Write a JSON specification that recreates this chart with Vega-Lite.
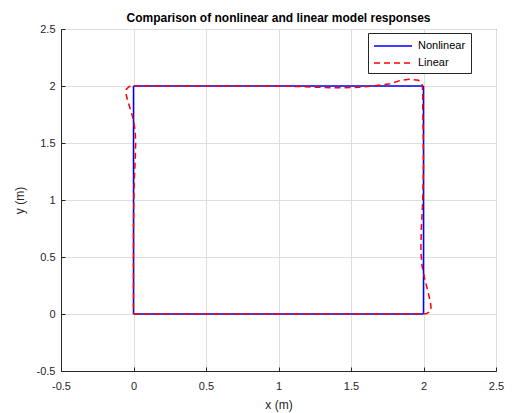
{
  "$schema": "https://vega.github.io/schema/vega-lite/v6.json",
  "width": 435,
  "height": 342,
  "autosize": {"type": "none"},
  "padding": {"left": 61, "top": 29, "right": 16, "bottom": 42},
  "background": "white",
  "title": {"text": "Comparison of nonlinear and linear model responses", "font": "Liberation Sans", "fontSize": 12, "fontWeight": "bold", "color": "#000000", "offset": -2, "anchor": "middle"},
  "config": {
    "view": {"stroke": "#262626", "strokeWidth": 1},
    "font": "Liberation Sans",
    "axis": {"labelFont": "Liberation Sans", "labelFontSize": 11, "labelColor": "#262626", "titleFont": "Liberation Sans", "titleFontSize": 12, "titleFontWeight": "normal", "titleColor": "#262626", "gridColor": "#dedede", "gridWidth": 1, "domainColor": "#262626", "tickColor": "#262626", "tickSize": -4, "labelFlush": false}
  },
  "data": {"values": [
    {"s": "Nonlinear", "i": 0, "x": 0, "y": 0},
    {"s": "Nonlinear", "i": 1, "x": 2, "y": 0},
    {"s": "Nonlinear", "i": 2, "x": 2, "y": 2},
    {"s": "Nonlinear", "i": 3, "x": 0, "y": 2},
    {"s": "Nonlinear", "i": 4, "x": 0, "y": 0},
    {"s": "Linear", "i": 0, "x": 0, "y": 0},
    {"s": "Linear", "i": 1, "x": 1, "y": 0},
    {"s": "Linear", "i": 2, "x": 1.98, "y": 0},
    {"s": "Linear", "i": 3, "x": 2.02, "y": 0.003},
    {"s": "Linear", "i": 4, "x": 2.045, "y": 0.02},
    {"s": "Linear", "i": 5, "x": 2.052, "y": 0.06},
    {"s": "Linear", "i": 6, "x": 2.045, "y": 0.12},
    {"s": "Linear", "i": 7, "x": 2.03, "y": 0.2},
    {"s": "Linear", "i": 8, "x": 2.01, "y": 0.3},
    {"s": "Linear", "i": 9, "x": 1.99, "y": 0.42},
    {"s": "Linear", "i": 10, "x": 1.982, "y": 0.55},
    {"s": "Linear", "i": 11, "x": 1.985, "y": 0.75},
    {"s": "Linear", "i": 12, "x": 1.995, "y": 1.0},
    {"s": "Linear", "i": 13, "x": 2.0, "y": 1.3},
    {"s": "Linear", "i": 14, "x": 1.998, "y": 1.6},
    {"s": "Linear", "i": 15, "x": 1.995, "y": 1.8},
    {"s": "Linear", "i": 16, "x": 1.995, "y": 1.95},
    {"s": "Linear", "i": 17, "x": 1.99, "y": 2.02},
    {"s": "Linear", "i": 18, "x": 1.965, "y": 2.05},
    {"s": "Linear", "i": 19, "x": 1.9, "y": 2.06},
    {"s": "Linear", "i": 20, "x": 1.83, "y": 2.045},
    {"s": "Linear", "i": 21, "x": 1.77, "y": 2.02},
    {"s": "Linear", "i": 22, "x": 1.65, "y": 2.0},
    {"s": "Linear", "i": 23, "x": 1.55, "y": 1.988},
    {"s": "Linear", "i": 24, "x": 1.4, "y": 1.984},
    {"s": "Linear", "i": 25, "x": 1.25, "y": 1.99},
    {"s": "Linear", "i": 26, "x": 1.1, "y": 1.997},
    {"s": "Linear", "i": 27, "x": 0.9, "y": 2.0},
    {"s": "Linear", "i": 28, "x": 0.3, "y": 2.0},
    {"s": "Linear", "i": 29, "x": 0.02, "y": 2.0},
    {"s": "Linear", "i": 30, "x": -0.03, "y": 1.995},
    {"s": "Linear", "i": 31, "x": -0.05, "y": 1.97},
    {"s": "Linear", "i": 32, "x": -0.05, "y": 1.92},
    {"s": "Linear", "i": 33, "x": -0.035, "y": 1.85},
    {"s": "Linear", "i": 34, "x": -0.015, "y": 1.77},
    {"s": "Linear", "i": 35, "x": 0.0, "y": 1.7},
    {"s": "Linear", "i": 36, "x": 0.012, "y": 1.6},
    {"s": "Linear", "i": 37, "x": 0.015, "y": 1.5},
    {"s": "Linear", "i": 38, "x": 0.012, "y": 1.35},
    {"s": "Linear", "i": 39, "x": 0.006, "y": 1.2},
    {"s": "Linear", "i": 40, "x": 0.002, "y": 1.0},
    {"s": "Linear", "i": 41, "x": 0, "y": 0.7},
    {"s": "Linear", "i": 42, "x": 0, "y": 0}
  ]},
  "encoding": {
    "x": {"field": "x", "type": "quantitative", "scale": {"domain": [-0.5, 2.5], "nice": false, "zero": false}, "axis": {"title": "x (m)", "values": [-0.5, 0, 0.5, 1, 1.5, 2, 2.5], "labelExpr": "toString(datum.value)", "labelPadding": 13, "titlePadding": 8}},
    "y": {"field": "y", "type": "quantitative", "scale": {"domain": [-0.5, 2.5], "nice": false, "zero": false}, "axis": {"title": "y (m)", "values": [-0.5, 0, 0.5, 1, 1.5, 2, 2.5], "labelExpr": "toString(datum.value)", "labelPadding": 10, "titlePadding": 10}},
    "order": {"field": "i", "type": "quantitative"},
    "color": {"field": "s", "type": "nominal", "scale": {"domain": ["Nonlinear", "Linear"], "range": ["#0000ff", "#ff0000"]}, "legend": {"title": null, "orient": "none", "legendX": 307, "legendY": 4, "strokeColor": "#262626", "fillColor": "white", "padding": 5, "symbolType": "M-1,0H4.43", "symbolSize": 196, "symbolStrokeWidth": 1.5, "labelFont": "Liberation Sans", "labelFontSize": 11, "labelColor": "#000000", "rowPadding": 4, "labelOffset": 29, "labelExpr": "datum.label + '\u00a0\u00a0\u00a0\u00a0'"}},
    "strokeDash": {"field": "s", "type": "nominal", "scale": {"domain": ["Nonlinear", "Linear"], "range": [[1, 0], [6, 4]]}, "legend": {"title": null, "orient": "none", "legendX": 307, "legendY": 4, "strokeColor": "#262626", "fillColor": "white", "padding": 5, "symbolType": "M-1,0H4.43", "symbolSize": 196, "symbolStrokeWidth": 1.5, "labelFont": "Liberation Sans", "labelFontSize": 11, "labelColor": "#000000", "rowPadding": 4, "labelOffset": 29, "labelExpr": "datum.label + '\u00a0\u00a0\u00a0\u00a0'"}}
  },
  "layer": [
    {"transform": [{"filter": "datum.s === 'Nonlinear'"}], "mark": {"type": "line", "strokeWidth": 1.5, "clip": true}},
    {"transform": [{"filter": "datum.s === 'Linear'"}], "mark": {"type": "line", "strokeWidth": 1.5, "clip": true}}
  ]
}
